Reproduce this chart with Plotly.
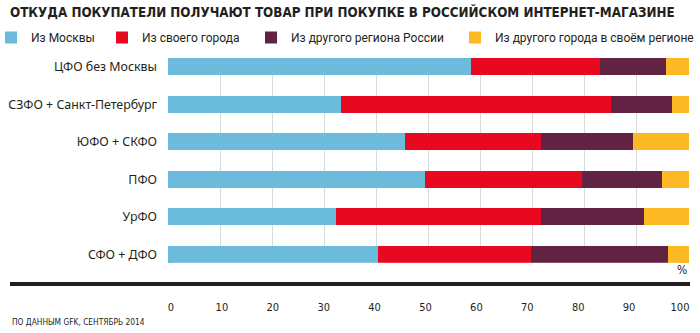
import plotly.graph_objects as go

categories = ["ЦФО без Москвы", "СЗФО + Санкт-Петербург", "ЮФО + СКФО", "ПФО", "УрФО", "СФО + ДФО"]
series_names = ["Из Москвы", "Из своего города", "Из другого региона России", "Из другого города в своём регионе"]
from_moscow = [58.1, 33.3, 45.4, 49.3, 32.3, 40.4]
own_city = [24.8, 51.8, 26.2, 30.1, 39.3, 29.3]
other_region = [12.7, 11.6, 17.7, 15.5, 19.8, 26.2]
other_city_same_region = [4.4, 3.3, 10.7, 5.1, 8.6, 4.1]
tick_values = [0, 10, 20, 30, 40, 50, 60, 70, 80, 90, 100]
tick_labels = ["0", "10", "20", "30", "40", "50", "60", "70", "80", "90", "100"]

colors = ["#6BBBDD", "#E8081F", "#622343", "#FDB924"]
series_values = [from_moscow, own_city, other_region, other_city_same_region]

COND = "Liberation Sans Narrow, DejaVu Sans Condensed, Roboto Condensed, Roboto, sans-serif"
LEGFONT = "Roboto, Noto Sans, sans-serif"
W, H = 700, 333
L, R, T, B = 168, 11, 58, 70
pw = W - L - R
ph = H - T - B


def px_x(x):
    return (x - L) / pw


def px_y(y):
    return (H - B - y) / ph


legend_ids = ["legend", "legend2", "legend3", "legend4"]
legend_x = [0, 102, 251, 455]
legend_indent = [-9, 0, 0, 0]

fig = go.Figure()
for name, vals, col, lid in zip(series_names, series_values, colors, legend_ids):
    fig.add_trace(go.Bar(
        y=categories, x=vals, name=name, orientation="h",
        marker=dict(color=col, line=dict(width=0)),
        hoverinfo="x+name", legend=lid,
    ))

# invisible trace carrying the tick-label axis (separate thin subplot)
fig.add_trace(go.Scatter(
    x=[tick_values[0], tick_values[-1]], y=[0, 0],
    xaxis="x2", yaxis="y2", mode="markers", marker=dict(opacity=0),
    showlegend=False, hoverinfo="skip",
))

legend_layout = {}
for lid, lx, ind in zip(legend_ids, legend_x, legend_indent):
    legend_layout[lid] = dict(
        orientation="h", xref="container", yref="container",
        x=lx / W, xanchor="left", y=1 - 37.5 / H, yanchor="middle",
        font=dict(family=LEGFONT, size=12, color="#231F20"),
        itemwidth=30, indentation=ind, bgcolor="rgba(0,0,0,0)", borderwidth=0,
    )

fig.update_layout(
    width=W, height=H,
    margin=dict(l=L, r=R, t=T, b=B, pad=0, autoexpand=False),
    paper_bgcolor="white", plot_bgcolor="white",
    barmode="stack", bargap=0.536,
    title=dict(
        text="<b>ОТКУДА ПОКУПАТЕЛИ ПОЛУЧАЮТ ТОВАР ПРИ ПОКУПКЕ В РОССИЙСКОМ ИНТЕРНЕТ-МАГАЗИНЕ</b>",
        x=10 / W, xanchor="left", xref="container",
        y=1 - 12 / H, yanchor="middle", yref="container",
        font=dict(family="DejaVu Sans Condensed, DejaVu Sans, sans-serif", size=13.3, color="#231F20"),
    ),
    xaxis=dict(
        range=[0, 100], tickvals=tick_values, showticklabels=False,
        showgrid=True, gridcolor="#D6DBDE", gridwidth=1,
        zeroline=False, showline=False, ticks="", fixedrange=True,
        domain=[0, 1], anchor="y",
    ),
    yaxis=dict(
        categoryorder="array", categoryarray=categories,
        range=[5.232, -0.232], showgrid=False, zeroline=False, showline=False,
        ticks="", ticklabelstandoff=10, domain=[0, 1], anchor="x",
        tickfont=dict(family="Noto Sans, Open Sans, sans-serif", size=12.4, color="#231F20"),
    ),
    xaxis2=dict(
        range=[0, 100], tickvals=tick_values, ticktext=tick_labels,
        domain=[px_x(171), px_x(680)], anchor="y2", side="bottom",
        showgrid=False, zeroline=False, showline=False, ticks="",
        ticklabelstandoff=36,
        tickfont=dict(family=COND, size=11, color="#231F20"),
    ),
    yaxis2=dict(
        domain=[0, 0.001], anchor="x2", visible=False, range=[-1, 1],
    ),
    shapes=[dict(
        type="line", xref="paper", yref="paper",
        x0=px_x(10), x1=px_x(690), y0=px_y(284), y1=px_y(284),
        line=dict(color="#231F20", width=4),
    )],
    annotations=[
        dict(text="%", xref="paper", yref="paper", x=px_x(689), xanchor="right",
             y=px_y(270), yanchor="middle", showarrow=False,
             font=dict(family=COND, size=12, color="#231F20")),
        dict(text="ПО ДАННЫМ GFK, СЕНТЯБРЬ 2014", xref="paper", yref="paper",
             x=px_x(10), xanchor="left", y=px_y(322), yanchor="middle", showarrow=False,
             font=dict(family=COND, size=8.3, color="#231F20")),
    ],
    **legend_layout,
)

fig.write_html("out.html")
